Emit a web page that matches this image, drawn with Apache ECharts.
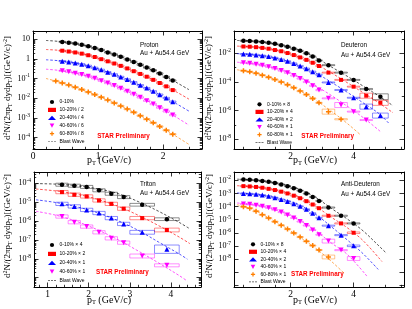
<!DOCTYPE html>
<html><head><meta charset="utf-8">
<script src="https://cdn.jsdelivr.net/npm/echarts@6/dist/echarts.min.js"></script>
<style>html,body{margin:0;padding:0;background:#fff}#c{width:412px;height:309px}</style>
</head><body><div id="c"></div>
<script>
// ================= DATA =================
// ---- Proton (Au+Au 54.4 GeV) ----
const P_LABELS = ['0-10%', '10-20% / 2', '20-40% / 4', '40-60% / 6', '60-80% / 8'];
const P_PT = [0.45,0.55,0.65,0.75,0.85,0.95,1.05,1.15,1.25,1.35,1.45,1.55,1.65,1.75,1.85,1.95,2.05,2.15];
const P_PT_6080 = [0.35,0.45,0.55,0.65,0.75,0.85,0.95,1.05,1.15,1.25,1.35,1.45,1.55,1.65,1.75,1.85,1.95,2.05,2.15];
const P_0_10  = [7.2,6.6,5.9,5.1,4.3,3.5,2.8,2.1,1.66,1.26,0.93,0.69,0.50,0.36,0.26,0.18,0.12,0.079];
const P_10_20 = [2.57,2.34,2.09,1.82,1.51,1.23,0.955,0.741,0.575,0.437,0.324,0.234,0.170,0.123,0.0851,0.0589,0.0398,0.0257];
const P_20_40 = [0.759,0.692,0.603,0.525,0.437,0.347,0.275,0.209,0.162,0.120,0.0891,0.0646,0.0457,0.0324,0.0224,0.0151,0.0102,0.00661];
const P_40_60 = [0.245,0.219,0.186,0.158,0.129,0.102,0.0776,0.0589,0.0437,0.0316,0.0224,0.0158,0.0110,0.00741,0.00501,0.00331,0.00214,0.00138];
const P_60_80 = [0.0741,0.0589,0.0461,0.0356,0.0272,0.0204,0.0152,0.0111,0.00804,0.00573,0.00403,0.00279,0.00191,0.00129,0.000859,0.000565,0.000366,0.000234,0.000148];
const P_BINHW = 0.05;
const P_SYS = 0.08;
const P_BW_0_10  = [[0.2,8.5],[0.4,7.6],[0.6,6.3],[0.8,4.7],[1.0,3.1],[1.2,1.9],[1.4,1.10],[1.6,0.59],[1.8,0.30],[2.0,0.148],[2.2,0.0646],[2.4,0.0269]];
const P_BW_10_20 = [[0.2,2.95],[0.4,2.69],[0.6,2.24],[0.8,1.66],[1.0,1.07],[1.2,0.661],[1.4,0.372],[1.6,0.200],[1.8,0.102],[2.0,0.049],[2.2,0.0214],[2.4,0.00891]];
const P_BW_20_40 = [[0.2,0.891],[0.4,0.794],[0.6,0.646],[0.8,0.479],[1.0,0.309],[1.2,0.186],[1.4,0.105],[1.6,0.0537],[1.8,0.0269],[2.0,0.0126],[2.2,0.00537],[2.4,0.00219]];
const P_BW_40_60 = [[0.2,0.295],[0.4,0.257],[0.6,0.204],[0.8,0.141],[1.0,0.0891],[1.2,0.0501],[1.4,0.0263],[1.6,0.0132],[1.8,0.00617],[2.0,0.00269],[2.2,0.0011],[2.4,0.000427]];
const P_BW_60_80 = [[0.2,0.100],[0.4,0.0661],[0.6,0.0407],[0.8,0.0234],[1.0,0.0129],[1.2,0.00676],[1.4,0.00339],[1.6,0.00158],[1.8,0.000708],[2.0,0.000295],[2.2,0.000117],[2.4,0.0000447]];

// ---- Deuteron ----
const D_LABELS = ['0-10% × 8', '10-20% × 4', '20-40% × 2', '40-60% × 1', '60-80% × 1'];
const D_PT    = [0.5,0.7,0.9,1.1,1.3,1.5,1.7,1.9,2.1,2.3,2.5,2.7,2.9,3.2,3.6,4.0,4.4,4.85];
const D_BINHW = [0.1,0.1,0.1,0.1,0.1,0.1,0.1,0.1,0.1,0.1,0.1,0.1,0.1,0.2,0.2,0.2,0.2,0.25];
const D_0_10  = [7.5e-2,7.2e-2,6.8e-2,6.2e-2,5.4e-2,4.6e-2,3.7e-2,2.9e-2,2.1e-2,1.5e-2,1.0e-2,6.0e-3,3.2e-3,1.5e-3,4.5e-4,1.4e-4,3.2e-5,9.3e-6];
const D_10_20 = [3.0e-2,2.9e-2,2.7e-2,2.4e-2,2.1e-2,1.7e-2,1.4e-2,1.05e-2,7.6e-3,5.2e-3,3.5e-3,2.2e-3,1.3e-3,4.5e-4,1.4e-4,4.7e-5,1.1e-5,3.5e-6];
const D_20_40 = [8.9e-3,8.5e-3,7.8e-3,6.9e-3,5.9e-3,4.8e-3,3.7e-3,2.75e-3,1.95e-3,1.3e-3,8.5e-4,5.2e-4,3.2e-4,9.3e-5,2.75e-5,7.9e-6,1.9e-6,4.5e-7];
const D_40_60 = [2.2e-3,2.0e-3,1.74e-3,1.45e-3,1.15e-3,8.7e-4,6.3e-4,4.4e-4,2.8e-4,1.74e-4,1.0e-4,5.4e-5,2.7e-5,7.2e-6,2.45e-6,8.5e-7,2.2e-7];
const D_60_80 = [6.2e-4,5.2e-4,4.0e-4,2.95e-4,2.1e-4,1.48e-4,1.0e-4,6.5e-5,4.0e-5,2.3e-5,1.32e-5,7.1e-6,3.5e-6,8.5e-7,2.5e-7];
const D_SYS_0_10  = [0.1,0.1,0.1,0.1,0.1,0.1,0.1,0.1,0.1,0.1,0.1,0.1,0.1,0.08,0.08,0.08,0.1,0.6];
const D_SYS_10_20 = [0.1,0.1,0.1,0.1,0.1,0.1,0.1,0.1,0.1,0.1,0.1,0.1,0.1,0.08,0.08,0.08,0.5,0.5];
const D_SYS_20_40 = [0.1,0.1,0.1,0.1,0.1,0.1,0.1,0.1,0.1,0.1,0.1,0.1,0.1,0.08,0.08,0.08,0.5,0.5];
const D_SYS_40_60 = [0.1,0.1,0.1,0.1,0.1,0.1,0.1,0.1,0.1,0.1,0.1,0.1,0.1,0.08,0.5,0.08,0.08];
const D_SYS_60_80 = [0.1,0.1,0.1,0.1,0.1,0.1,0.1,0.1,0.1,0.1,0.1,0.1,0.1,0.5,0.1];
const D_BW_0_10  = [[0.3,7.9e-2],[0.8,7.1e-2],[1.3,5.4e-2],[1.8,3.3e-2],[2.3,1.6e-2],[2.8,5.0e-3],[3.3,1.1e-3],[3.8,2.5e-4],[4.3,5.2e-5],[4.8,1.05e-5],[5.25,2.2e-6]];
const D_BW_10_20 = [[0.3,3.2e-2],[0.8,2.8e-2],[1.3,2.1e-2],[1.8,1.2e-2],[2.3,5.2e-3],[2.8,1.74e-3],[3.3,4.2e-4],[3.8,8.9e-5],[4.3,1.8e-5],[4.8,3.5e-6],[5.25,7.1e-7]];
const D_BW_20_40 = [[0.3,9.5e-3],[0.8,8.1e-3],[1.3,5.9e-3],[1.8,3.3e-3],[2.3,1.3e-3],[2.8,4.2e-4],[3.3,9.3e-5],[3.8,1.9e-5],[4.3,3.5e-6],[4.8,6.3e-7],[5.15,1.1e-7]];
const D_BW_40_60 = [[0.3,2.4e-3],[0.8,1.86e-3],[1.3,1.15e-3],[1.8,5.8e-4],[2.3,2.0e-4],[2.8,5.2e-5],[3.3,1.12e-5],[3.8,2.0e-6],[4.3,3.3e-7],[4.85,3.5e-8]];
const D_BW_60_80 = [[0.3,7.1e-4],[0.8,4.7e-4],[1.3,2.2e-4],[1.8,8.3e-5],[2.3,2.4e-5],[2.8,5.2e-6],[3.3,8.9e-7],[3.8,1.26e-7],[4.2,2.2e-8]];

// ---- Triton ----
const T_LABELS = ['0-10% × 4', '10-20% × 2', '20-40% × 1', '40-60% × 1'];
const T_PT    = [1.35,1.65,1.95,2.25,2.55,2.85,3.3,3.9];
const T_BINHW = [0.15,0.15,0.15,0.15,0.15,0.15,0.3,0.3];
const T_0_10  = [8.1e-5,7.2e-5,6.2e-5,4.1e-5,2.7e-5,1.8e-5,7.1e-6,1.23e-6];
const T_10_20 = [3.3e-5,2.4e-5,1.95e-5,1.2e-5,7.9e-6,4.4e-6,1.4e-6,3.3e-7];
const T_20_40 = [7.9e-6,5.8e-6,3.8e-6,2.6e-6,1.4e-6,6.9e-7,2.5e-7,3.2e-8];
const T_40_60 = [1.7e-6,8.5e-7,5.0e-7,2.5e-7,1.2e-7,7.1e-8,1.4e-8,4.5e-9];
const T_SYS_0_10  = [0.2,0.2,0.2,0.2,0.2,0.2,0.18,0.18];
const T_SYS_10_20 = [0.22,0.22,0.22,0.22,0.22,0.22,0.22,0.26];
const T_SYS_20_40 = [0.22,0.22,0.22,0.22,0.22,0.22,0.26,0.66];
const T_SYS_40_60 = [0.22,0.22,0.22,0.22,0.22,0.22,0.27,0.2];
const T_BW_0_10  = [[0.72,9.3e-5],[1.2,8.7e-5],[1.7,7.2e-5],[2.2,5.0e-5],[2.7,2.8e-5],[3.2,1.05e-5],[3.7,3.2e-6],[4.2,8.3e-7],[4.46,3.8e-7]];
const T_BW_10_20 = [[0.72,4.8e-5],[1.2,3.8e-5],[1.7,2.6e-5],[2.2,1.4e-5],[2.7,6.0e-6],[3.2,2.0e-6],[3.7,5.6e-7],[4.2,1.4e-7],[4.46,6.3e-8]];
const T_BW_20_40 = [[0.72,1.3e-5],[1.2,9.3e-6],[1.7,5.6e-6],[2.2,2.75e-6],[2.7,1.05e-6],[3.2,3.2e-7],[3.7,7.6e-8],[4.2,1.8e-8],[4.4,9.5e-9]];
const T_BW_40_60 = [[0.72,3.2e-6],[1.2,2.0e-6],[1.7,9.5e-7],[2.2,3.5e-7],[2.7,1.05e-7],[3.2,2.6e-8],[3.7,6.0e-9],[4.2,1.3e-9],[4.4,6.6e-10]];

// ---- Anti-Deuteron ----
const A_LABELS = ['0-10% × 8', '10-20% × 4', '20-40% × 2', '40-60% × 1', '60-80% × 1'];
const A_PT    = [0.5,0.7,0.9,1.1,1.3,1.5,1.7,1.9,2.1,2.3,2.5,2.7,2.9,3.2,3.6,4.0];
const A_BINHW = [0.1,0.1,0.1,0.1,0.1,0.1,0.1,0.1,0.1,0.1,0.1,0.1,0.1,0.2,0.2,0.2];
const A_0_10  = [1.17e-2,1.12e-2,1.05e-2,9.3e-3,7.9e-3,6.5e-3,5.0e-3,3.7e-3,2.6e-3,1.66e-3,1.0e-3,5.5e-4,2.75e-4,8.5e-5,2.0e-5,5.2e-6];
const A_10_20 = [3.7e-3,3.5e-3,3.2e-3,2.8e-3,2.3e-3,1.86e-3,1.4e-3,1.02e-3,6.9e-4,4.4e-4,2.6e-4,1.45e-4,7.6e-5,2.0e-5,5.2e-6,1.0e-6];
const A_20_40 = [1.0e-3,9.5e-4,8.7e-4,7.6e-4,6.2e-4,4.8e-4,3.5e-4,2.5e-4,1.66e-4,1.05e-4,6.2e-5,3.1e-5,1.4e-5,3.5e-6,6.6e-7,1.0e-7];
const A_40_60 = [1.6e-4,1.5e-4,1.3e-4,1.07e-4,8.1e-5,5.8e-5,3.8e-5,2.3e-5,1.35e-5,7.2e-6,3.6e-6,1.66e-6,7.1e-7,2.3e-7,4.7e-8,1.07e-8];
const A_60_80 = [1.0e-4,7.6e-5,4.4e-5,2.4e-5,1.32e-5,7.1e-6,3.7e-6,1.9e-6,9.5e-7,4.7e-7,2.2e-7,1.05e-7,4.8e-8,1.4e-8];
const A_SYS_0_10  = [0.1,0.1,0.1,0.1,0.1,0.1,0.1,0.1,0.1,0.1,0.1,0.1,0.1,0.1,0.1,0.1];
const A_SYS_10_20 = [0.1,0.1,0.1,0.1,0.1,0.1,0.1,0.1,0.1,0.1,0.1,0.1,0.1,0.1,0.1,0.15];
const A_SYS_20_40 = [0.1,0.1,0.1,0.1,0.1,0.1,0.1,0.1,0.1,0.1,0.1,0.1,0.1,0.1,0.1,0.15];
const A_SYS_40_60 = [0.1,0.1,0.1,0.1,0.1,0.1,0.1,0.1,0.1,0.1,0.1,0.1,0.1,0.4,0.1,0.4];
const A_SYS_60_80 = [0.1,0.1,0.1,0.1,0.1,0.1,0.1,0.1,0.1,0.1,0.1,0.1,0.1,0.4];
const A_BW_0_10  = [[0.3,1.26e-2],[0.8,1.07e-2],[1.3,7.9e-3],[1.8,4.8e-3],[2.3,2.0e-3],[2.8,5.0e-4],[3.3,7.1e-5],[3.8,1.12e-5],[4.3,1.4e-6],[4.8,1.0e-7],[5.05,2.6e-8]];
const A_BW_10_20 = [[0.3,4.0e-3],[0.8,3.3e-3],[1.3,2.4e-3],[1.8,1.3e-3],[2.3,5.0e-4],[2.8,1.05e-4],[3.3,1.5e-5],[3.8,2.4e-6],[4.3,2.5e-7],[4.9,6.3e-9]];
const A_BW_20_40 = [[0.3,1.12e-3],[0.8,9.1e-4],[1.3,6.3e-4],[1.8,3.4e-4],[2.3,1.26e-4],[2.8,2.5e-5],[3.3,2.8e-6],[3.8,2.8e-7],[4.3,2.5e-8],[4.8,1.4e-9]];
const A_BW_40_60 = [[0.3,1.9e-4],[0.8,1.38e-4],[1.3,7.9e-5],[1.8,3.2e-5],[2.3,8.3e-6],[2.8,1.4e-6],[3.3,1.6e-7],[3.8,2.2e-8],[4.45,4.0e-10]];
const A_BW_60_80 = [[0.3,1.4e-4],[0.8,6.0e-5],[1.3,1.4e-5],[1.8,2.8e-6],[2.3,4.5e-7],[2.8,6.3e-8],[3.3,6.3e-9],[3.7,7.9e-10]];

// ================= STYLE / LAYOUT =================
const COLORS = ['#000000', '#ff0000', '#0000ff', '#ff00ff', '#ff7f00'];
const SYMBOLS = ['circle', 'rect', 'triangle', 'path://M0,0L10,0L5,9Z', 'path://M3.5,0H6.5V3.5H10V6.5H6.5V10H3.5V6.5H0V3.5H3.5Z'];
const SYMSIZE = [4.5, 4, 5, 5, 5];
const SERIF = 'Liberation Serif', SANS = 'Liberation Sans';
const DASH_ICON = 'path://M0,0H3V1.1H0Z M4.5,0H7.5V1.1H4.5Z M9,0H12V1.1H9Z';

function dec(a, b) { const r = []; for (let n = a; n <= b; n++) r.push(Math.pow(10, n)); return r; }
function decMinor(a, b) { const r = []; for (let n = a; n <= b; n++) for (let k = 2; k <= 9; k++) r.push(k * Math.pow(10, n)); return r; }
function steps(a, b, s) { const r = []; for (let v = a; v <= b + 1e-9; v += s) r.push(+v.toFixed(3)); return r; }

const PANELS = [
  { grid: { left: 33, top: 31, width: 169, height: 118 }, x: [0, 2.6], y: [-4.58, 1.41],
    xLab: [0, 1, 2], xMaj: [0, 1, 2], xMin: steps(0.2, 2.6, 0.2).filter(v => Math.abs(v - Math.round(v)) > 1e-6),
    yLab: dec(-4, 1), yMaj: dec(-4, 1), yMin: decMinor(-5, 1),
    labels: P_LABELS,
    series: [
      { pt: P_PT, val: P_0_10, hw: P_BINHW, sys: P_SYS, bw: P_BW_0_10 },
      { pt: P_PT, val: P_10_20, hw: P_BINHW, sys: P_SYS, bw: P_BW_10_20 },
      { pt: P_PT, val: P_20_40, hw: P_BINHW, sys: P_SYS, bw: P_BW_20_40 },
      { pt: P_PT, val: P_40_60, hw: P_BINHW, sys: P_SYS, bw: P_BW_40_60 },
      { pt: P_PT_6080, val: P_60_80, hw: P_BINHW, sys: P_SYS, bw: P_BW_60_80 }],
    legend: { left: 48, top: 99.5, gap: 2.9 },
    title: 'Proton', tx: 140, ty1: 45, ty2: 53.5, star: [123.5, 136], xt: [109, 160.5], yt: [7.5, 88] },
  { grid: { left: 234, top: 31, width: 170, height: 118 }, x: [0.2, 5.6], y: [-8.68, -0.44],
    xLab: [2, 4], xMaj: [2, 4], xMin: [0.5, 1, 1.5, 2.5, 3, 3.5, 4.5, 5, 5.5],
    yLab: [1e-8, 1e-6, 1e-4, 1e-2], yMaj: [1e-8, 1e-6, 1e-4, 1e-2], yMin: [1e-7, 1e-5, 1e-3, 1e-1],
    labels: D_LABELS,
    series: [
      { pt: D_PT, val: D_0_10, hw: D_BINHW, sys: D_SYS_0_10, bw: D_BW_0_10 },
      { pt: D_PT, val: D_10_20, hw: D_BINHW, sys: D_SYS_10_20, bw: D_BW_10_20 },
      { pt: D_PT, val: D_20_40, hw: D_BINHW, sys: D_SYS_20_40, bw: D_BW_20_40 },
      { pt: D_PT, val: D_40_60, hw: D_BINHW, sys: D_SYS_40_60, bw: D_BW_40_60 },
      { pt: D_PT, val: D_60_80, hw: D_BINHW, sys: D_SYS_60_80, bw: D_BW_60_80 }],
    legend: { left: 255.5, top: 101.8, gap: 2.6 },
    title: 'Deuteron', tx: 341, ty1: 45, ty2: 55.5, star: [327.7, 136.7], xt: [315, 160.5], yt: [208.7, 88] },
  { grid: { left: 34, top: 172, width: 167, height: 115 }, x: [0.67, 4.73], y: [-9.49, -3.42],
    xLab: [1, 2, 3, 4], xMaj: [1, 2, 3, 4], xMin: steps(0.8, 4.6, 0.2).filter(v => Math.abs(v - Math.round(v)) > 1e-6),
    yLab: dec(-8, -4), yMaj: dec(-9, -4), yMin: decMinor(-10, -4),
    labels: T_LABELS,
    series: [
      { pt: T_PT, val: T_0_10, hw: T_BINHW, sys: T_SYS_0_10, bw: T_BW_0_10 },
      { pt: T_PT, val: T_10_20, hw: T_BINHW, sys: T_SYS_10_20, bw: T_BW_10_20 },
      { pt: T_PT, val: T_20_40, hw: T_BINHW, sys: T_SYS_20_40, bw: T_BW_20_40 },
      { pt: T_PT, val: T_40_60, hw: T_BINHW, sys: T_SYS_40_60, bw: T_BW_40_60 }],
    legend: { left: 48, top: 242.5, gap: 3.9 },
    title: 'Triton', tx: 140, ty1: 184.3, ty2: 192.8, star: [122.3, 272.3], xt: [109, 300], yt: [8, 226] },
  { grid: { left: 234, top: 172, width: 170, height: 115 }, x: [0.2, 5.6], y: [-10.15, -1.35],
    xLab: [2, 4], xMaj: [2, 4], xMin: [0.5, 1, 1.5, 2.5, 3, 3.5, 4.5, 5, 5.5],
    yLab: dec(-8, -2), yMaj: dec(-10, -2), yMin: [],
    labels: A_LABELS,
    series: [
      { pt: A_PT, val: A_0_10, hw: A_BINHW, sys: A_SYS_0_10, bw: A_BW_0_10 },
      { pt: A_PT, val: A_10_20, hw: A_BINHW, sys: A_SYS_10_20, bw: A_BW_10_20 },
      { pt: A_PT, val: A_20_40, hw: A_BINHW, sys: A_SYS_20_40, bw: A_BW_20_40 },
      { pt: A_PT, val: A_40_60, hw: A_BINHW, sys: A_SYS_40_60, bw: A_BW_40_60 },
      { pt: A_PT, val: A_60_80, hw: A_BINHW, sys: A_SYS_60_80, bw: A_BW_60_80 }],
    legend: { left: 249, top: 241.8, gap: 2.5 },
    title: 'Anti-Deuteron', tx: 341, ty1: 184.3, ty2: 194, star: [317.3, 274], xt: [315, 300], yt: [210, 226] }
];

// ================= BUILD =================
const grids = [], xAxes = [], yAxes = [], series = [], legends = [], graphics = [];
const LINE = { color: '#000', width: 1 };
const TICK = { color: '#000', width: 0.8 };

function yLabelFmt(v) {
  const n = Math.round(Math.log10(v));
  if (n === 0) return '{b|1}';
  if (n === 1) return '{b|10}';
  return '{b|10}{s|' + n + '}';
}
const Y_RICH = { b: { fontSize: 8, fontFamily: SERIF, color: '#000', lineHeight: 11 },
                 s: { fontSize: 5.5, fontFamily: SERIF, color: '#000', verticalAlign: 'top', lineHeight: 6 } };

PANELS.forEach((p, pi) => {
  grids.push(Object.assign({ containLabel: false }, p.grid));
  const xr = { min: p.x[0], max: p.x[1] };
  const yr = { min: Math.pow(10, p.y[0]), max: Math.pow(10, p.y[1]) };
  const base = { gridIndex: pi, splitLine: { show: false }, axisPointer: { show: false } };
  xAxes.push(Object.assign({}, base, xr, { type: 'value', position: 'bottom',
    axisLine: { show: true, onZero: false, lineStyle: LINE },
    axisTick: { show: true, inside: true, length: 4.5, customValues: p.xMaj, lineStyle: TICK },
    axisLabel: { show: true, customValues: p.xLab, margin: 2.5, fontSize: 9.5, fontFamily: SERIF, color: '#000' } }));
  xAxes.push(Object.assign({}, base, xr, { type: 'value', position: 'bottom',
    axisLine: { show: false, onZero: false }, axisLabel: { show: false },
    axisTick: { show: true, inside: true, length: 2.2, customValues: p.xMin, lineStyle: TICK } }));
  xAxes.push(Object.assign({}, base, xr, { type: 'value', position: 'top',
    axisLine: { show: true, onZero: false, lineStyle: LINE }, axisLabel: { show: false },
    axisTick: { show: true, inside: true, length: 4.5, customValues: p.xMaj, lineStyle: TICK } }));
  xAxes.push(Object.assign({}, base, xr, { type: 'value', position: 'top',
    axisLine: { show: false, onZero: false }, axisLabel: { show: false },
    axisTick: { show: true, inside: true, length: 2.2, customValues: p.xMin, lineStyle: TICK } }));
  yAxes.push(Object.assign({}, base, yr, { type: 'log', logBase: 10, position: 'left',
    axisLine: { show: true, onZero: false, lineStyle: LINE },
    axisTick: { show: true, inside: true, length: 4.5, customValues: p.yMaj, lineStyle: TICK },
    axisLabel: { show: true, customValues: p.yLab, margin: 3, formatter: yLabelFmt, rich: Y_RICH } }));
  yAxes.push(Object.assign({}, base, yr, { type: 'log', logBase: 10, position: 'left',
    axisLine: { show: false, onZero: false }, axisLabel: { show: false },
    axisTick: { show: p.yMin.length > 0, inside: true, length: 2.2, customValues: p.yMin.length ? p.yMin : p.yMaj, lineStyle: TICK } }));
  yAxes.push(Object.assign({}, base, yr, { type: 'log', logBase: 10, position: 'right',
    axisLine: { show: true, onZero: false, lineStyle: LINE }, axisLabel: { show: false },
    axisTick: { show: true, inside: true, length: 4.5, customValues: p.yMaj, lineStyle: TICK } }));
  yAxes.push(Object.assign({}, base, yr, { type: 'log', logBase: 10, position: 'right',
    axisLine: { show: false, onZero: false }, axisLabel: { show: false },
    axisTick: { show: p.yMin.length > 0, inside: true, length: 2.2, customValues: p.yMin.length ? p.yMin : p.yMaj, lineStyle: TICK } }));

  const xi = pi * 4, yi = pi * 4;
  p.series.forEach((s, si) => {
    const color = COLORS[si];
    series.push({ type: 'line', name: 'bw' + pi + '_' + si, xAxisIndex: xi, yAxisIndex: yi,
      data: s.bw, smooth: 0.35, symbol: 'none', silent: true, z: 1, clip: true,
      lineStyle: { color: color, width: 0.8, type: [2.5, 1.8], opacity: 0.85 } });
    series.push({ type: 'custom', name: 'sys' + pi + '_' + si, xAxisIndex: xi, yAxisIndex: yi, silent: true, z: 2, clip: true,
      data: s.val.map((v, i) => [s.pt[i], v, Array.isArray(s.hw) ? s.hw[i] : s.hw, Array.isArray(s.sys) ? s.sys[i] : s.sys]),
      encode: { x: 0, y: 1 },
      renderItem: (params, api) => {
        const x = api.value(0), y = api.value(1), hw = api.value(2), e = api.value(3);
        const a = api.coord([x - hw, y * (1 + e)]), b = api.coord([x + hw, y / (1 + e)]);
        return { type: 'rect', shape: { x: a[0], y: a[1], width: b[0] - a[0], height: b[1] - a[1] },
          style: { fill: 'none', stroke: color, lineWidth: 0.6, opacity: 0.75 } };
      } });
    series.push({ type: 'scatter', name: p.labels[si], xAxisIndex: xi, yAxisIndex: yi, z: 3, clip: true,
      data: s.val.map((v, i) => [s.pt[i], v]), symbol: SYMBOLS[si], symbolSize: SYMSIZE[si],
      itemStyle: { color: color, opacity: 1 }, silent: true });
  });

  legends.push({ orient: 'vertical', left: p.legend.left, top: p.legend.top, padding: 0,
    itemWidth: 8, itemHeight: 4.2, itemGap: p.legend.gap, selectedMode: false,
    textStyle: { fontSize: 5, fontFamily: SANS, color: '#000', lineHeight: 5, padding: [0, 0, 0, -1.5] },
    data: p.labels.concat([{ name: 'Blast Wave', icon: DASH_ICON }]) });

  graphics.push({ type: 'text', x: p.tx, y: p.ty1, style: { text: p.title, font: '6.3px "Liberation Sans"', fill: '#000', verticalAlign: 'middle' } });
  graphics.push({ type: 'text', x: p.tx, y: p.ty2, style: { text: 'Au + Au54.4 GeV', font: '6.3px "Liberation Sans"', fill: '#000', verticalAlign: 'middle' } });
  graphics.push({ type: 'text', x: p.star[0], y: p.star[1], style: { text: 'STAR Preliminary', font: 'bold 6.3px "Liberation Sans"', fill: '#ff0000', align: 'center', verticalAlign: 'middle' } });
  graphics.push({ type: 'text', x: p.xt[0], y: p.xt[1], style: {
    text: '{n|p}{sub|T}{n| (GeV/c)}', align: 'center', verticalAlign: 'middle',
    rich: { n: { fontSize: 10, fontFamily: SERIF, fill: '#000', lineHeight: 12 },
            sub: { fontSize: 6.5, fontFamily: SERIF, fill: '#000', verticalAlign: 'bottom', lineHeight: 7 } } } });
  graphics.push({ type: 'text', x: p.yt[0], y: p.yt[1], rotation: Math.PI / 2, style: {
    text: '{n|d}{sup|2}{n|N/(2πp}{sub|T}{n| dydp}{sub|T}{n|)[(GeV/c)}{sup|-2}{n|]}', align: 'center', verticalAlign: 'middle',
    rich: { n: { fontSize: 9, fontFamily: SERIF, fill: '#000', lineHeight: 11 },
            sup: { fontSize: 6, fontFamily: SERIF, fill: '#000', verticalAlign: 'top', lineHeight: 6 },
            sub: { fontSize: 6, fontFamily: SERIF, fill: '#000', verticalAlign: 'bottom', lineHeight: 6 } } } });
});

series.push({ type: 'line', name: 'Blast Wave', xAxisIndex: 0, yAxisIndex: 0, data: [], symbol: 'none',
  itemStyle: { color: '#444' }, lineStyle: { color: '#444', width: 0.8, type: [2, 1.5] } });

const chart = echarts.init(document.getElementById('c'), null, { renderer: 'canvas' });
chart.setOption({
  animation: false,
  backgroundColor: '#fff',
  grid: grids, xAxis: xAxes, yAxis: yAxes,
  series: series, legend: legends, graphic: graphics
});
</script></body></html>
